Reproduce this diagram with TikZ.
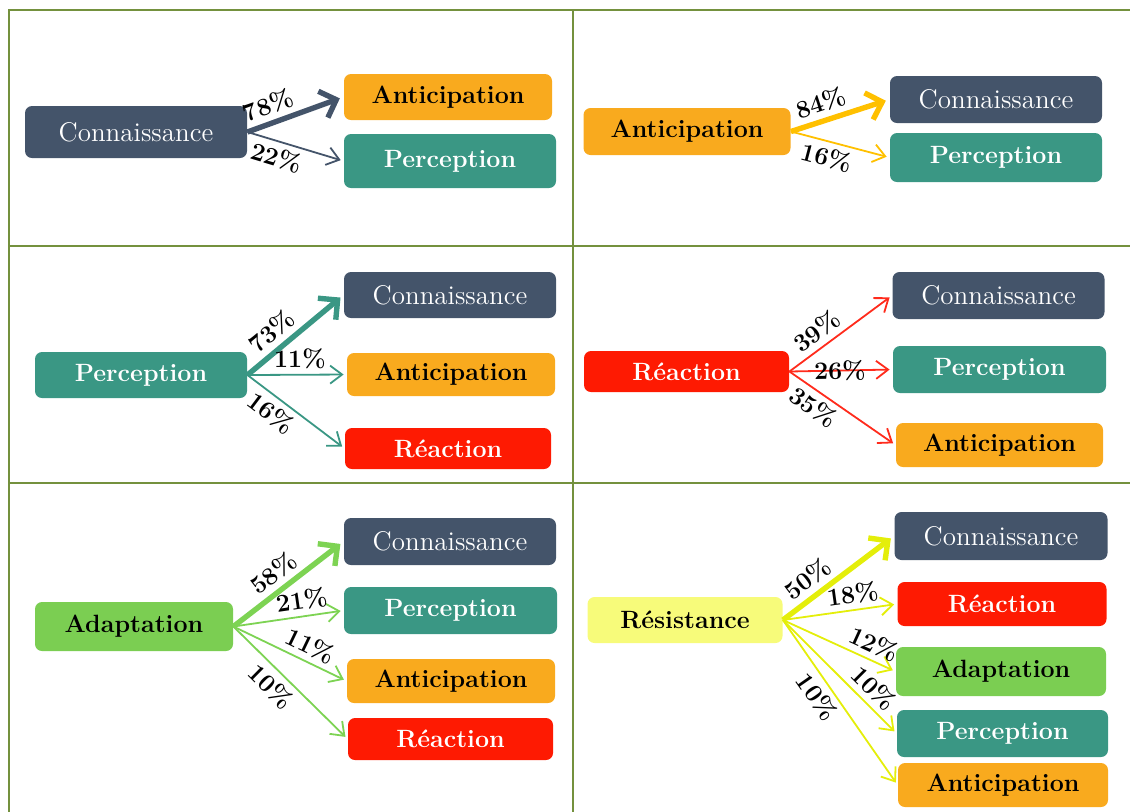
\documentclass[tikz,border=0pt]{standalone}
\usepackage{fontspec}
\usetikzlibrary{arrows.meta}

\definecolor{slate}{HTML}{44546A}
\definecolor{amber}{HTML}{F9AA1E}
\definecolor{tealbox}{HTML}{3A9784}
\definecolor{redbox}{HTML}{FE1A02}
\definecolor{greenbox}{HTML}{7BCE52}
\definecolor{yellowbox}{HTML}{F7FB7A}
\definecolor{gridline}{HTML}{74913E}
\definecolor{gold}{HTML}{FFC000}
\definecolor{redline}{HTML}{FF2B1C}
\definecolor{greenline}{HTML}{7DD353}
\definecolor{yellowline}{HTML}{E4EE0A}

\begin{document}
\begin{tikzpicture}[x=0.5pt, y=-0.5pt,
    box/.style={rounded corners=3.5pt, inner sep=0pt},
    conn/.style={box, fill=slate, text=white, font=\fontsize{13.5}{15}\selectfont},
    anti/.style={box, fill=amber, text=black, font=\fontsize{12.5}{15}\selectfont\bfseries},
    perc/.style={box, fill=tealbox, text=white, font=\fontsize{12.5}{15}\selectfont\bfseries},
    reac/.style={box, fill=redbox, text=white, font=\fontsize{12.5}{15}\selectfont\bfseries},
    adap/.style={box, fill=greenbox, text=black, font=\fontsize{12.5}{15}\selectfont\bfseries},
    resi/.style={box, fill=yellowbox, text=black, font=\fontsize{12.5}{15}\selectfont\bfseries},
    pct/.style={font=\fontsize{12.5}{14}\selectfont\bfseries, text=black, inner sep=2.5pt, sloped},
    online/.style={anchor=center},
    link/.style={-{Straight Barb[length=6pt,width=9pt]}, line width=0.9pt, shorten >=1.5pt},
    heavy/.style={-{Straight Barb[length=7pt,width=14pt]}, line width=2.7pt, shorten >=2pt}]

  \def\u{0.5pt}
  \useasboundingbox (0,0) rectangle (1130,811);
  \clip (0,0) rectangle (1130,811);

  %table
  \draw[gridline, line width=1pt] (8.5,1000) -- (8.5,9.5) -- (1200,9.5);
  \draw[gridline, line width=1pt] (572.5,9.5) -- (572.5,1000);
  \foreach \y in {246, 483}{
    \draw[gridline, line width=1pt] (8.5,\y) -- (1200,\y);
  }

  %from Connaissance
  \foreach \name/\sty/\x/\y/\w/\h/\txt in {k0/conn/136/132/222/52/Connaissance,
        k1/anti/448/97/208/46/Anticipation, k2/perc/450/161/212/54/Perception}{
    \node[\sty, minimum width=\w*\u, minimum height=\h*\u] (\name) at (\x,\y) {\txt};
  }
  \foreach \to/\p/\st/\lab/\q in {k1/78/heavy/above/0.28, k2/22/link/below/0.35}{
    \draw[\st, slate] (k0.east) -- (\to.west) node[pct, \lab, pos=\q] {\p\%};
  }

  %from Anticipation
  \foreach \name/\sty/\x/\y/\w/\h/\txt in {a0/anti/687/131.5/207/47/Anticipation,
        a1/conn/996/99.5/212/47/Connaissance, a2/perc/996/157.5/212/49/Perception}{
    \node[\sty, minimum width=\w*\u, minimum height=\h*\u] (\name) at (\x,\y) {\txt};
  }
  \foreach \to/\p/\st/\lab/\q in {a1/84/heavy/above/0.36, a2/16/link/below/0.4}{
    \draw[\st, gold] (a0.east) -- (\to.west) node[pct, \lab, pos=\q] {\p\%};
  }

  %from Perception
  \foreach \name/\sty/\x/\y/\w/\h/\txt in {p0/perc/141/375/212/46/Perception,
        p1/conn/450/295/212/46/Connaissance, p2/anti/451/374.5/208/43/Anticipation,
        p3/reac/448/448.5/206/41/Réaction}{
    \node[\sty, minimum width=\w*\u, minimum height=\h*\u] (\name) at (\x,\y) {\txt};
  }
  \foreach \to/\p/\st/\lab/\q in {p1/73/heavy/above/0.37, p2/11/link/above/0.53,
        p3/16/link/below/0.34}{
    \draw[\st, tealbox] (p0.east) -- (\to.west) node[pct, \lab, pos=\q] {\p\%};
  }

  %from Reaction
  \foreach \name/\sty/\x/\y/\w/\h/\txt in {r0/reac/686.5/371.5/205/41/Réaction,
        r1/conn/998.5/295.5/212/47/Connaissance, r2/perc/999.5/369.5/213/47/Perception,
        r3/anti/999.5/445/207/44/Anticipation}{
    \node[\sty, minimum width=\w*\u, minimum height=\h*\u] (\name) at (\x,\y) {\txt};
  }
  \foreach \to/\p/\lab/\q in {r1/39/above/0.36, r2/26/online/0.49, r3/35/below/0.31}{
    \draw[link, redline] (r0.east) -- (\to.west) node[pct, \lab, pos=\q] {\p\%};
  }

  %from Adaptation
  \foreach \name/\sty/\x/\y/\w/\h/\txt in {d0/adap/134/626.5/198/49/Adaptation,
        d1/conn/450/541.5/212/47/Connaissance, d2/perc/450.5/610.5/213/47/Perception,
        d3/anti/451/681/208/44/Anticipation, d4/reac/450.5/739/205/42/Réaction}{
    \node[\sty, minimum width=\w*\u, minimum height=\h*\u] (\name) at (\x,\y) {\txt};
  }
  \foreach \to/\p/\st/\lab/\q in {d1/58/heavy/above/0.46, d2/21/link/above/0.64,
        d3/11/link/above/0.62, d4/10/link/below/0.43}{
    \draw[\st, greenline] (d0.east) -- (\to.west) node[pct, \lab, pos=\q] {\p\%};
  }

  %from Resistance
  \foreach \name/\sty/\x/\y/\w/\h/\txt in {s0/resi/685/620/195/46/Résistance,
        s1/conn/1001/536/213/48/Connaissance, s2/reac/1002/604/209/44/Réaction,
        s3/adap/1001/671.5/210/49/Adaptation, s4/perc/1002.5/733.5/211/47/Perception,
        s5/anti/1003/785/210/44/Anticipation}{
    \node[\sty, minimum width=\w*\u, minimum height=\h*\u] (\name) at (\x,\y) {\txt};
  }
  \foreach \to/\p/\st/\lab/\q in {s1/50/heavy/above/0.32, s2/18/link/above/0.63,
        s3/12/link/above/0.75, s4/10/link/above/0.7, s5/10/link/below/0.41}{
    \draw[\st, yellowline] (s0.east) -- (\to.west) node[pct, \lab, pos=\q] {\p\%};
  }

\end{tikzpicture}
\end{document}
